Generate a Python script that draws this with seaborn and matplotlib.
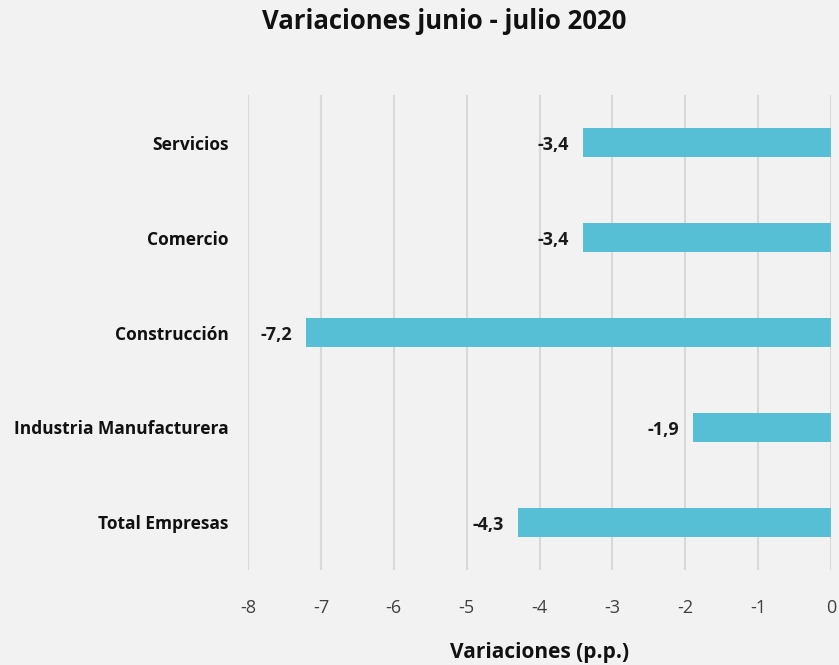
import matplotlib
matplotlib.use("Agg")
import matplotlib.pyplot as plt
import seaborn as sns
import pandas as pd

categories = ["Servicios", "Comercio", "Construcción", "Industria Manufacturera", "Total Empresas"]
values = [-3.4, -3.4, -7.2, -1.9, -4.3]
xticks = [-8, -7, -6, -5, -4, -3, -2, -1, 0]

sns.set_theme(style="white")
plt.rcParams['font.family'] = ['Open Sans', 'DejaVu Sans']

bg = "#f2f2f2"
fig = plt.figure(figsize=(8.39, 6.65), dpi=100, facecolor=bg)
ax = fig.add_axes([0.2956, 0.1429, 0.6949, 0.7142])
ax.set_facecolor(bg)

df = pd.DataFrame({"cat": categories, "val": values})
sns.barplot(data=df, x="val", y="cat", orient="h", color="#56BFD6",
            saturation=1, width=0.31, ax=ax, zorder=3, edgecolor="none", linewidth=0)

ax.set_xlim(-8, 0)
ax.set_ylim(4.5, -0.5)
ax.set_xticks(xticks)
ax.set_xticklabels([str(t) for t in xticks], fontsize=13, color="#404040")
ax.xaxis.grid(True, color="#d9d9d9", linewidth=1.5, zorder=0)
ax.yaxis.grid(False)
for s in ax.spines.values():
    s.set_visible(False)
ax.tick_params(axis="x", length=0, pad=21)
ax.tick_params(axis="y", length=0, pad=14)
for lbl in ax.get_yticklabels():
    lbl.set_fontweight("bold")
    lbl.set_fontsize(12.5)
    lbl.set_color("#111111")

ax.set_ylabel("")
ax.set_xlabel("Variaciones (p.p.)", fontsize=15, fontweight="bold", labelpad=18, color="#111111")

for i, v in enumerate(values):
    ax.annotate(f"{v:.1f}".replace(".", ","), xy=(v, i), xytext=(-10, -2),
                textcoords="offset points", ha="right", va="center",
                fontsize=13, fontweight="bold", color="#1a1a1a", zorder=4)

fig.suptitle("Variaciones junio - julio 2020", fontsize=18.5, fontweight="bold",
             x=0.5 + 0.03, y=0.988, color="#111111")

fig.savefig("out.png", dpi=100, facecolor=bg)
